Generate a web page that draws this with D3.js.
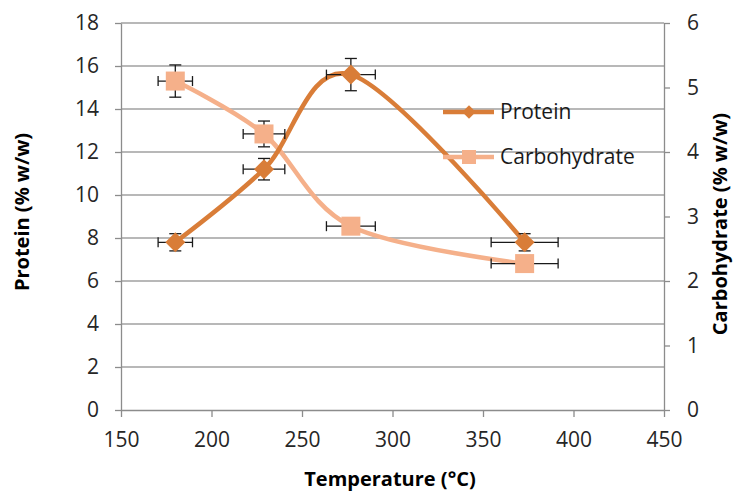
<!DOCTYPE html>
<html lang="en">
<head>
  <meta charset="UTF-8">
  <script src="https://d3js.org/d3.v7.min.js"></script>
  <title>Protein and carbohydrate vs temperature</title>
  <style>
    body { margin: 0; background: #fff; }
    svg { font-family: "Open Sans", sans-serif; }
  </style>
</head>
<body>
  <svg width="733" height="495"></svg>
  <script>
    // values
    const temps = [180, 229, 277, 373];
    const tempErr = [9.5, 11.5, 13.5, 18.5];
    const protein = [7.8, 11.2, 15.6, 7.8];
    const proteinErr = [0.4, 0.5, 0.75, 0.4];
    const carbohydrate = [5.1, 4.28, 2.85, 2.27];
    const carbohydrateErr = [0.25, 0.2, 0.05, 0.05];
    const xTicks = [150, 200, 250, 300, 350, 400, 450];
    const leftTicks = [0, 2, 4, 6, 8, 10, 12, 14, 16, 18];
    const rightTicks = [0, 1, 2, 3, 4, 5, 6];

    const proteinColor = "#d97d38";
    const carbColor = "#f5b08a";

    const svg = d3.select("svg");
    const x = d3.scaleLinear().domain([150, 450]).range([121, 664]);
    const yL = d3.scaleLinear().domain([0, 18]).range([410, 23]);
    const yR = d3.scaleLinear().domain([0, 6]).range([410, 23]);

    // gridlines
    svg.append("g")
      .selectAll("line")
      .data(leftTicks.filter(d => d > 0))
      .enter().append("line")
      .attr("x1", x(150)).attr("x2", x(450))
      .attr("y1", d => yL(d)).attr("y2", d => yL(d))
      .style("stroke", "#a0a0a0").style("stroke-width", "1.3px");

    const styleAxis = (g) => {
      g.selectAll("path.domain").style("stroke", "#8c8c8c").style("stroke-width", "1.3px");
      g.selectAll(".tick line").style("stroke", "#8c8c8c").style("stroke-width", "1.3px");
      g.selectAll("text").style("font-size", "21px").style("fill", "#262626")
        .style("font-family", "'Open Sans', sans-serif");
    };

    svg.append("g")
      .attr("transform", `translate(${x(150)},0)`)
      .call(d3.axisLeft(yL).tickValues(leftTicks).tickSize(6).tickSizeOuter(0).tickPadding(16))
      .call(styleAxis);

    svg.append("g")
      .attr("transform", `translate(${x(450)},0)`)
      .call(d3.axisRight(yR).tickValues(rightTicks).tickFormat(d3.format("d"))
        .tickSize(6).tickSizeOuter(0).tickPadding(17))
      .call(styleAxis);

    svg.append("g")
      .attr("transform", `translate(0,${yL(0)})`)
      .call(d3.axisBottom(x).tickValues(xTicks).tickSize(7).tickSizeOuter(0).tickPadding(15))
      .call(styleAxis);

    // axis titles
    svg.append("text")
      .attr("x", 390).attr("y", 486)
      .attr("text-anchor", "middle")
      .style("font-size", "20px").style("font-weight", "bold")
      .text("Temperature (°C)");

    svg.append("text")
      .attr("transform", "translate(29,212) rotate(-90)")
      .attr("text-anchor", "middle")
      .style("font-size", "20px").style("font-weight", "bold")
      .text("Protein (% w/w)");

    svg.append("text")
      .attr("transform", "translate(727,224) rotate(-90)")
      .attr("text-anchor", "middle")
      .style("font-size", "20px").style("font-weight", "bold")
      .text("Carbohydrate (% w/w)");

    const proteinPts = temps.map((t, i) => ({ t, v: protein[i], ev: proteinErr[i], et: tempErr[i], y: yL }));
    const carbPts = temps.map((t, i) => ({ t, v: carbohydrate[i], ev: carbohydrateErr[i], et: tempErr[i], y: yR }));

    const lineL = d3.line().curve(d3.curveCatmullRom.alpha(0)).x(d => x(d.t)).y(d => yL(d.v));
    const lineR = d3.line().curve(d3.curveCatmullRom.alpha(0)).x(d => x(d.t)).y(d => yR(d.v));

    svg.append("path").datum(carbPts).attr("d", lineR)
      .style("fill", "none").style("stroke", carbColor).style("stroke-width", "4.5px");
    svg.append("path").datum(proteinPts).attr("d", lineL)
      .style("fill", "none").style("stroke", proteinColor).style("stroke-width", "4.5px");

    // error bars
    const errG = svg.append("g").style("stroke", "#1a1a1a").style("stroke-width", "1.3px");
    proteinPts.concat(carbPts).forEach(d => {
      const cx = x(d.t), cy = d.y(d.v);
      const x0 = x(d.t - d.et), x1 = x(d.t + d.et);
      const y0 = d.y(d.v - d.ev), y1 = d.y(d.v + d.ev);
      errG.append("line").attr("x1", x0).attr("x2", x1).attr("y1", cy).attr("y2", cy);
      errG.append("line").attr("x1", x0).attr("x2", x0).attr("y1", cy - 5).attr("y2", cy + 5);
      errG.append("line").attr("x1", x1).attr("x2", x1).attr("y1", cy - 5).attr("y2", cy + 5);
      errG.append("line").attr("x1", cx).attr("x2", cx).attr("y1", y0).attr("y2", y1);
      errG.append("line").attr("x1", cx - 6).attr("x2", cx + 6).attr("y1", y0).attr("y2", y0);
      errG.append("line").attr("x1", cx - 6).attr("x2", cx + 6).attr("y1", y1).attr("y2", y1);
    });

    // markers
    svg.selectAll("rect.carb")
      .data(carbPts).enter().append("rect")
      .attr("class", "carb")
      .attr("x", d => x(d.t) - 9.5).attr("y", d => yR(d.v) - 9.5)
      .attr("width", 19).attr("height", 19)
      .style("fill", carbColor);

    const diamond = d3.symbol().type(d3.symbolSquare).size(200);
    svg.selectAll("path.prot")
      .data(proteinPts).enter().append("path")
      .attr("class", "prot")
      .attr("d", diamond)
      .attr("transform", d => `translate(${x(d.t)},${yL(d.v)}) rotate(45)`)
      .style("fill", proteinColor);

    // legend
    const legend = svg.append("g");
    const items = [
      { name: "Protein", color: proteinColor, y: 112, shape: "diamond" },
      { name: "Carbohydrate", color: carbColor, y: 157, shape: "square" }
    ];
    items.forEach(it => {
      legend.append("line")
        .attr("x1", 443).attr("x2", 494).attr("y1", it.y).attr("y2", it.y)
        .style("stroke", it.color).style("stroke-width", "4.5px");
      if (it.shape === "diamond") {
        legend.append("path")
          .attr("d", d3.symbol().type(d3.symbolSquare).size(90))
          .attr("transform", `translate(469,${it.y}) rotate(45)`)
          .style("fill", it.color);
      } else {
        legend.append("rect")
          .attr("x", 469 - 7).attr("y", it.y - 7).attr("width", 14).attr("height", 14)
          .style("fill", it.color);
      }
      legend.append("text")
        .attr("x", 500).attr("y", it.y + 7)
        .style("font-size", "21px").style("fill", "#1a1a1a")
        .text(it.name);
    });
  </script>
</body>
</html>
